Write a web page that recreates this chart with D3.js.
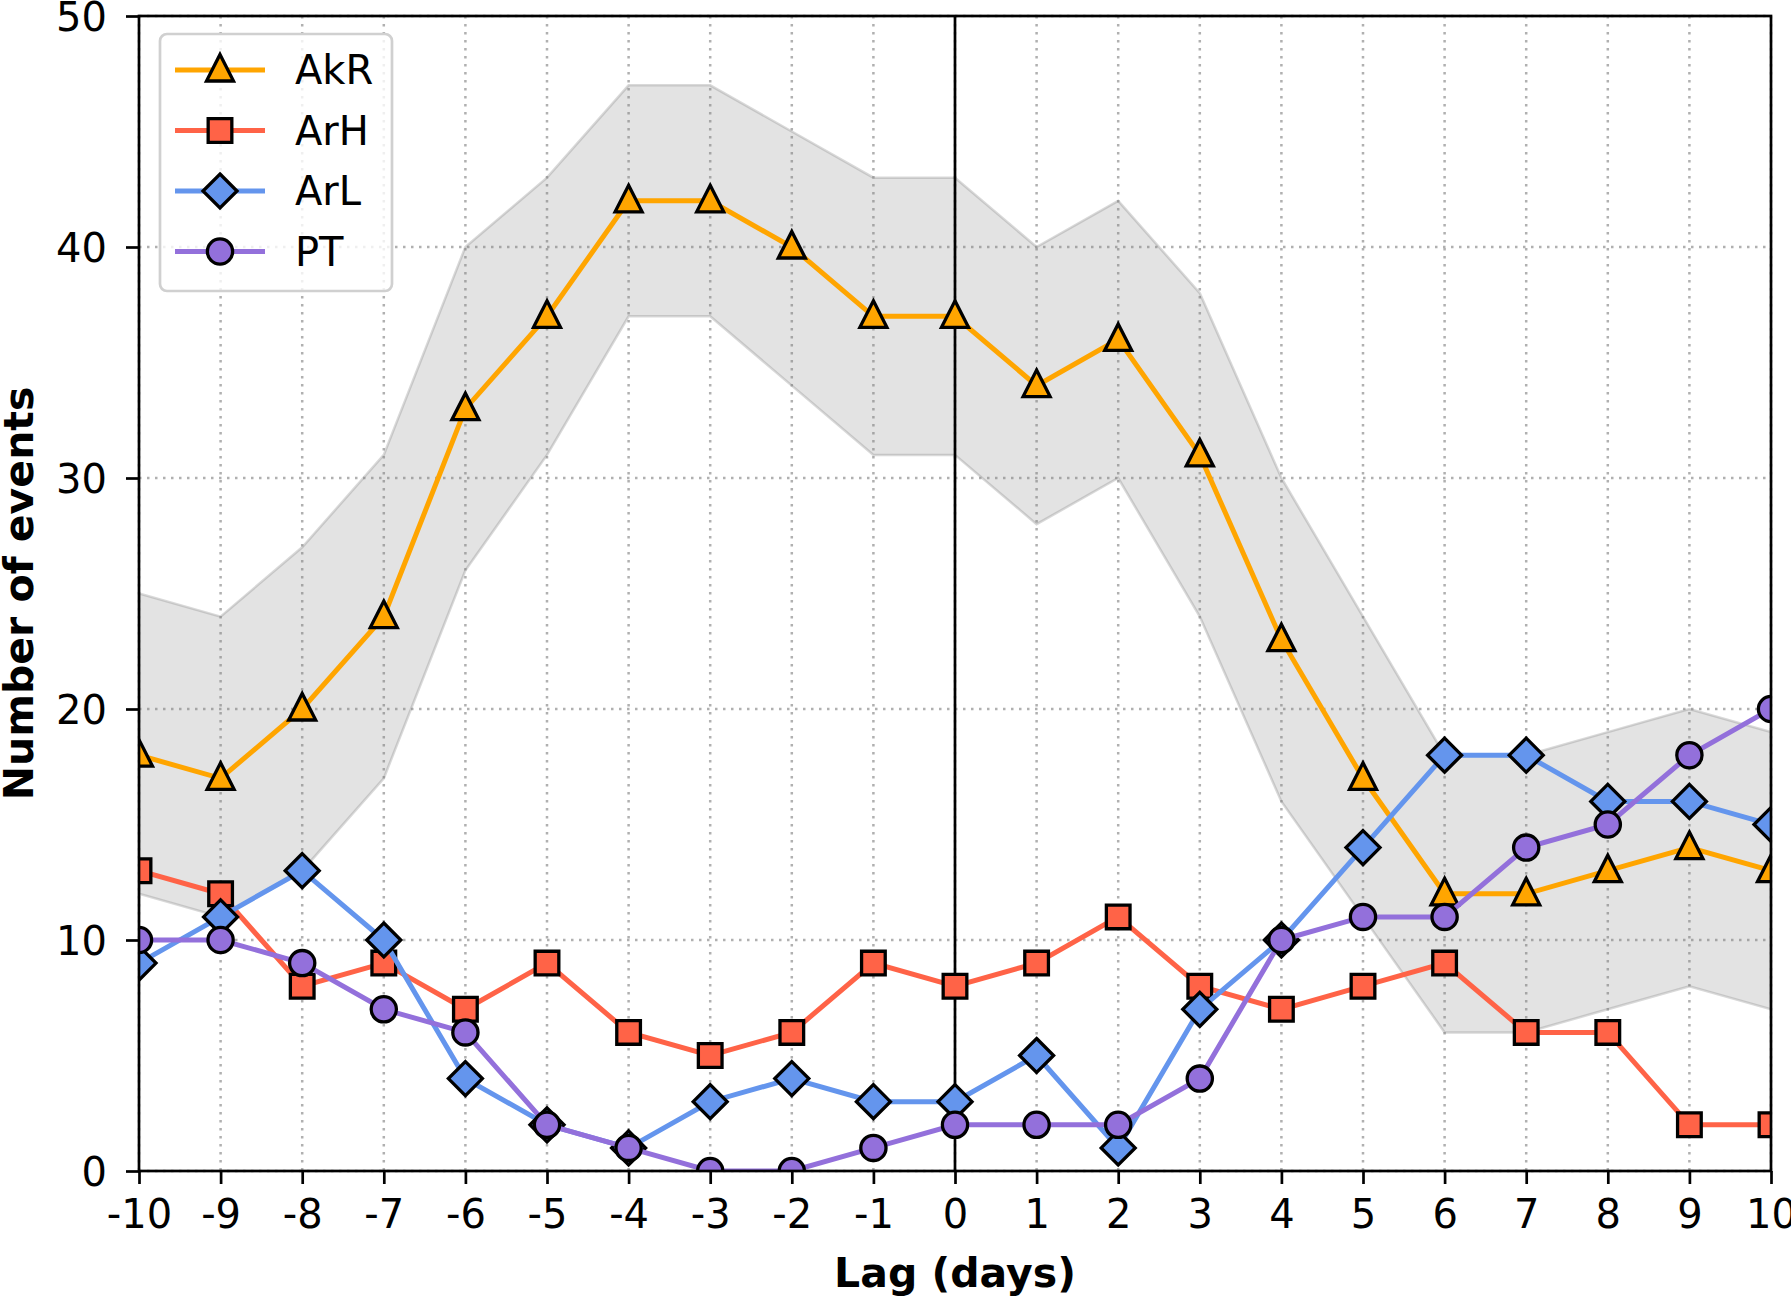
<!DOCTYPE html>
<html>
<head>
<meta charset="utf-8">
<script src="https://cdn.jsdelivr.net/npm/d3@7"></script>
<style>
  body { margin: 0; background: #fff; }
  svg text { font-family: "DejaVu Sans", sans-serif; }
</style>
</head>
<body>
<svg width="1791" height="1296"></svg>
<script>
var canvas = d3.select("svg");

var iWidth = +canvas.attr("width");
var iHeight = +canvas.attr("height");

var margin = { top: 16, right: 20, bottom: 125, left: 139 };
var iInnerWidth = iWidth - margin.left - margin.right;
var iInnerHeight = iHeight - margin.top - margin.bottom;

var lags = [-10, -9, -8, -7, -6, -5, -4, -3, -2, -1, 0, 1, 2, 3, 4, 5, 6, 7, 8, 9, 10];
var akr = [18, 17, 20, 24, 33, 37, 42, 42, 40, 37, 37, 34, 36, 31, 23, 17, 12, 12, 13, 14, 13];
var arh = [13, 12, 8, 9, 7, 9, 6, 5, 6, 9, 8, 9, 11, 8, 7, 8, 9, 6, 6, 2, 2];
var arl = [9, 11, 13, 10, 4, 2, 1, 3, 4, 3, 3, 5, 1, 7, 10, 14, 18, 18, 16, 16, 15];
var pt = [10, 10, 9, 7, 6, 2, 1, 0, 0, 1, 2, 2, 2, 4, 10, 11, 11, 14, 15, 18, 20];
var bandUpper = [25, 24, 27, 31, 40, 43, 47, 47, 45, 43, 43, 40, 42, 38, 30, 24, 18, 18, 19, 20, 19];
var bandLower = [12, 11, 13, 17, 26, 31, 37, 37, 34, 31, 31, 28, 30, 24, 16, 11, 6, 6, 7, 8, 7];
var yTicks = [0, 10, 20, 30, 40, 50];

var series = [
    { name: "AkR", values: akr, color: "#FFA500", marker: d3.symbolTriangle },
    { name: "ArH", values: arh, color: "#FF6347", marker: d3.symbolSquare },
    { name: "ArL", values: arl, color: "#6495ED", marker: "diamond" },
    { name: "PT", values: pt, color: "#9370DB", marker: d3.symbolCircle }
];

var xScale = d3.scaleLinear().domain([-10, 10]).range([0, iInnerWidth]);
var yScale = d3.scaleLinear().domain([0, 50]).range([iInnerHeight, 0]);

var parentGroup = canvas.append("g")
    .attr("transform", `translate(${margin.left},${margin.top})`);

parentGroup.append("clipPath").attr("id", "plotClip")
    .append("rect")
    .attr("width", iInnerWidth)
    .attr("height", iInnerHeight);

function markerPath(m) {
    if (m === "diamond") {
        return "M0,-17L17,0L0,17L-17,0Z";
    }
    if (m === d3.symbolTriangle) {
        return "M0,-15.5L13.5,11L-13.5,11Z";
    }
    if (m === d3.symbolSquare) {
        return d3.symbol().type(m).size(560)();
    }
    return d3.symbol().type(m).size(500)();
}

// grid
var grid = parentGroup.append("g");
grid.selectAll(".vgrid").data(lags).enter().append("line")
    .attr("x1", d => xScale(d)).attr("x2", d => xScale(d))
    .attr("y1", 0).attr("y2", iInnerHeight)
    .attr("stroke", "#b0b0b0").attr("stroke-width", 2.5)
    .attr("stroke-dasharray", "2.5,5.5");
grid.selectAll(".hgrid").data(yTicks).enter().append("line")
    .attr("x1", 0).attr("x2", iInnerWidth)
    .attr("y1", d => yScale(d)).attr("y2", d => yScale(d))
    .attr("stroke", "#b0b0b0").attr("stroke-width", 2.5)
    .attr("stroke-dasharray", "2.5,5.5");

// shaded band
var bandData = lags.map((d, i) => ({ x: d, lo: bandLower[i], hi: bandUpper[i] }));
parentGroup.append("path")
    .datum(bandData)
    .attr("clip-path", "url(#plotClip)")
    .attr("d", d3.area().x(d => xScale(d.x)).y0(d => yScale(d.lo)).y1(d => yScale(d.hi)))
    .attr("fill", "rgba(128,128,128,0.22)")
    .attr("stroke", "rgba(128,128,128,0.3)")
    .attr("stroke-width", 2.5);

// zero lag line
parentGroup.append("line")
    .attr("x1", xScale(0)).attr("x2", xScale(0))
    .attr("y1", 0).attr("y2", iInnerHeight)
    .attr("stroke", "#000").attr("stroke-width", 2.7);

// lines + markers
var lineGen = d3.line().x(d => xScale(d.x)).y(d => yScale(d.y));
series.forEach(function (s) {
    var pts = lags.map((d, i) => ({ x: d, y: s.values[i] }));
    var g = parentGroup.append("g").attr("clip-path", "url(#plotClip)");
    g.append("path").datum(pts)
        .attr("d", lineGen)
        .attr("fill", "none")
        .attr("stroke", s.color)
        .attr("stroke-width", 5);
    g.selectAll("path.mk").data(pts).enter().append("path")
        .attr("class", "mk")
        .attr("d", markerPath(s.marker))
        .attr("transform", d => `translate(${xScale(d.x)},${yScale(d.y)})`)
        .attr("fill", s.color)
        .attr("stroke", "#000")
        .attr("stroke-width", 3.3);
});

// axes
var xAxis = parentGroup.append("g")
    .attr("transform", `translate(0,${iInnerHeight})`)
    .call(d3.axisBottom(xScale).tickValues(lags).tickFormat(d => String(d))
        .tickSize(13).tickPadding(16).tickSizeOuter(0));
var yAxis = parentGroup.append("g")
    .call(d3.axisLeft(yScale).tickValues(yTicks).tickFormat(d => String(d))
        .tickSize(13).tickPadding(19).tickSizeOuter(0));
[xAxis, yAxis].forEach(function (a) {
    a.select(".domain").remove();
    a.selectAll("line").attr("stroke", "#000").attr("stroke-width", 2.7);
    a.selectAll("text").attr("font-size", 40).attr("fill", "#000")
        .style("font-family", "DejaVu Sans");
});
yAxis.selectAll("text").attr("dy", "0.36em");

// frame
parentGroup.append("rect")
    .attr("width", iInnerWidth).attr("height", iInnerHeight)
    .attr("fill", "none").attr("stroke", "#000").attr("stroke-width", 2.7);

// axis labels
canvas.append("text")
    .attr("x", margin.left + iInnerWidth / 2)
    .attr("y", 1287)
    .attr("text-anchor", "middle")
    .attr("font-size", 41).attr("font-weight", "bold")
    .text("Lag (days)");
canvas.append("text")
    .attr("transform", `translate(33,${margin.top + iInnerHeight / 2}) rotate(-90)`)
    .attr("text-anchor", "middle")
    .attr("font-size", 41).attr("font-weight", "bold")
    .text("Number of events");

// legend
var legend = parentGroup.append("g").attr("transform", "translate(21,18)");
legend.append("rect")
    .attr("width", 232).attr("height", 257)
    .attr("rx", 7)
    .attr("fill", "rgba(255,255,255,0.8)")
    .attr("stroke", "#d0d0d0").attr("stroke-width", 2.7);
var items = legend.selectAll("g.item").data(series).enter().append("g")
    .attr("transform", (d, i) => `translate(0,${36 + i * 60.5})`);
items.append("line")
    .attr("x1", 15).attr("x2", 105)
    .attr("stroke", d => d.color).attr("stroke-width", 5);
items.append("path")
    .attr("d", d => markerPath(d.marker))
    .attr("transform", "translate(60,0)")
    .attr("fill", d => d.color)
    .attr("stroke", "#000").attr("stroke-width", 3.3);
items.append("text")
    .attr("x", 135).attr("dy", "0.36em")
    .attr("font-size", 40)
    .text(d => d.name);
</script>
</body>
</html>
